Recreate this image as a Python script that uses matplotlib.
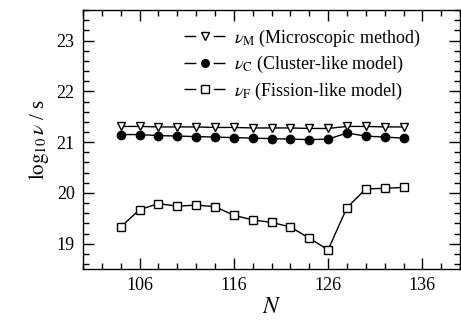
import matplotlib
matplotlib.use("Agg")
import matplotlib.pyplot as plt
from matplotlib.lines import Line2D
from matplotlib.ticker import MultipleLocator

plt.rcParams['font.family'] = ['Liberation Serif', 'DejaVu Serif']
plt.rcParams['mathtext.fontset'] = 'stix'

# Neutron number
N = [104, 106, 108, 110, 112, 114, 116, 118, 120, 122, 124, 126, 128, 130, 132, 134]

# log10 of assault frequency for each approach
nu_micro = [21.31, 21.31, 21.30, 21.30, 21.30, 21.29, 21.29, 21.28,
            21.28, 21.28, 21.27, 21.27, 21.31, 21.31, 21.30, 21.30]
nu_cluster = [21.15, 21.15, 21.13, 21.12, 21.11, 21.10, 21.09, 21.08,
              21.07, 21.06, 21.05, 21.06, 21.18, 21.12, 21.10, 21.08]
nu_fission = [19.33, 19.67, 19.79, 19.74, 19.76, 19.73, 19.56, 19.47,
              19.42, 19.33, 19.11, 18.88, 19.71, 20.08, 20.09, 20.11]

labels = [r'$\nu_{\mathrm{M}}$ (Microscopic method)',
          r'$\nu_{\mathrm{C}}$ (Cluster-like model)',
          r'$\nu_{\mathrm{F}}$ (Fission-like model)']

fig = plt.figure(figsize=(4.61, 3.27), dpi=100)
ax = fig.add_axes([0.18, 0.177, 0.818, 0.792])

ms = 6
ax.plot(N, nu_micro, color='black', lw=1.0, marker='v', ms=ms,
        mfc='white', mec='black', mew=1.0)
ax.plot(N, nu_cluster, color='black', lw=1.0, marker='o', ms=ms,
        mfc='black', mec='black')
ax.plot(N, nu_fission, color='black', lw=1.0, marker='s', ms=ms - 0.5,
        mfc='white', mec='black', mew=1.0)

ax.set_xlim(100, 140)
ax.set_ylim(18.5, 23.6)
ax.xaxis.set_major_locator(MultipleLocator(10))
ax.xaxis.set_minor_locator(MultipleLocator(2))
ax.yaxis.set_major_locator(MultipleLocator(1))
ax.yaxis.set_minor_locator(MultipleLocator(0.2))
ax.set_xticks([106, 116, 126, 136])
ax.tick_params(which='both', direction='in', top=True, right=True,
               labelsize=13, width=1.0)
ax.tick_params(which='major', length=8, pad=6)
ax.tick_params(which='minor', length=4.5)
for sp in ax.spines.values():
    sp.set_linewidth(1.0)

ax.set_xlabel(r'$N$', fontsize=17, labelpad=2)
ax.set_ylabel(r'$\log_{10}\nu$ / s', fontsize=15, labelpad=4)

# legend handles: dashed stub with marker in the gap
dash = (8.5, 12.5)
handles = []
for mk, fc in [('v', 'white'), ('o', 'black'), ('s', 'white')]:
    seg = Line2D([], [], color='black', lw=1.0, linestyle=(0, dash))
    mark = Line2D([], [], color='black', lw=0, marker=mk, ms=ms - 0.5,
                  mfc=fc, mec='black', mew=1.0)
    handles.append((seg, mark))
ax.legend(handles, labels, loc='upper right', frameon=False, fontsize=13,
          handlelength=2.3, handletextpad=0.5, labelspacing=0.3,
          borderaxespad=0.2, bbox_to_anchor=(0.925, 0.975))

fig.savefig('out.png', dpi=100)
